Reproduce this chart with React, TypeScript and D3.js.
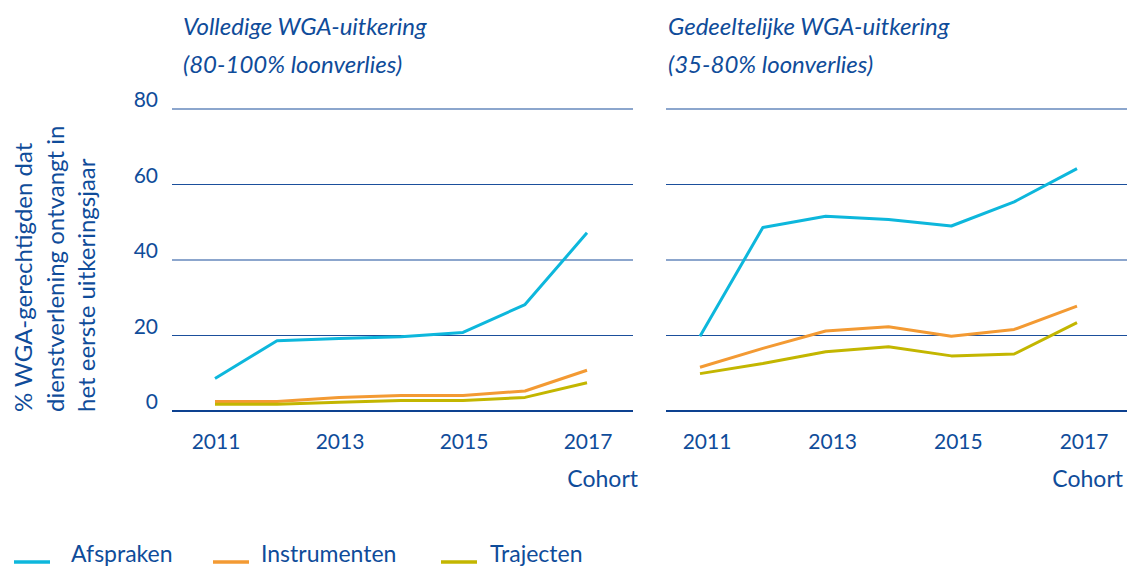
import React from "react";
import * as d3 from "d3";

const years = [2011, 2012, 2013, 2014, 2015, 2016, 2017];
const tickYears = [2011, 2013, 2015, 2017];
const yTicks = [0, 20, 40, 60, 80];

// Volledige WGA-uitkering
const fullAfspraken = [8.6, 18.6, 19.2, 19.7, 20.8, 28.2, 47.2];
const fullInstrumenten = [2.5, 2.5, 3.6, 4.1, 4.1, 5.3, 10.8];
const fullTrajecten = [1.8, 1.8, 2.3, 2.8, 2.8, 3.6, 7.5];

// Gedeeltelijke WGA-uitkering
const partAfspraken = [19.8, 48.6, 51.6, 50.7, 49.0, 55.4, 64.2];
const partInstrumenten = [11.6, 16.6, 21.2, 22.3, 19.8, 21.6, 27.8];
const partTrajecten = [9.9, 12.6, 15.7, 17.0, 14.6, 15.1, 23.4];

const seriesNames = ["Afspraken", "Instrumenten", "Trajecten"];
const seriesColors = ["#0db7dc", "#f39a33", "#c3b600"];

const panelTitles = [
  ["Volledige WGA-uitkering", "(80-100% loonverlies)"],
  ["Gedeeltelijke WGA-uitkering", "(35-80% loonverlies)"],
];
const yTitleLines = [
  "% WGA-gerechtigden dat",
  "dienstverlening ontvangt in",
  "het eerste uitkeringsjaar",
];
const xAxisTitle = "Cohort";

const TEXT = "#0f4c9a";
const GRID = "#1b4f9c";
const FONT = "Lato, 'Open Sans', sans-serif";

const panels = [
  {
    titles: panelTitles[0],
    series: [fullAfspraken, fullInstrumenten, fullTrajecten],
    gridX: [172, 633],
    dataX: [215, 587],
    labelDx: 1,
    titleX: 183,
    cohortX: 638,
  },
  {
    titles: panelTitles[1],
    series: [partAfspraken, partInstrumenten, partTrajecten],
    gridX: [666, 1127],
    dataX: [700, 1077],
    labelDx: 7,
    titleX: 668,
    cohortX: 1123,
  },
];

const legendSwatchX = [14, 213, 441];
const legendTextX = [71, 261, 490];

export default function App() {
  const W = 1130;
  const H = 568;
  const y = d3.scaleLinear().domain([0, 80]).range([411, 109]);

  return (
    <svg
      width={W}
      height={H}
      style={{ position: "absolute", left: 0, top: 0, background: "#fff" }}
      fontFamily={FONT}
    >
      {/* Y-axis title */}
      {yTitleLines.map((t, i) => (
        <text
          key={t}
          transform={`translate(${32 + i * 31.5},412) rotate(-90)`}
          fontSize={24}
          fill={TEXT}
          textAnchor="start"
        >
          {t}
        </text>
      ))}

      {/* Y tick labels */}
      {yTicks.map((v) => (
        <text
          key={v}
          x={158}
          y={y(v) - 7}
          fontSize={21}
          fill={TEXT}
          textAnchor="end"
          dominantBaseline="middle"
        >
          {v}
        </text>
      ))}

      {panels.map((p, pi) => {
        const x = d3
          .scaleLinear()
          .domain([years[0], years[years.length - 1]])
          .range(p.dataX);
        const line = d3
          .line<number>()
          .x((_, i) => x(years[i]))
          .y((d) => y(d));
        return (
          <g key={pi}>
            {p.titles.map((t, i) => (
              <text
                key={t}
                x={p.titleX}
                y={35 + i * 38}
                fontSize={24}
                fontStyle="italic"
                fill={TEXT}
              >
                {t}
              </text>
            ))}
            {yTicks.map((v) => (
              <line
                key={v}
                x1={p.gridX[0]}
                x2={p.gridX[1]}
                y1={y(v)}
                y2={y(v)}
                stroke={v === 0 ? "#0d4190" : GRID}
                strokeWidth={v === 0 ? 2.2 : 1.2}
              />
            ))}
            {p.series.map((s, si) => (
              <path
                key={si}
                d={line(s) || ""}
                fill="none"
                stroke={seriesColors[si]}
                strokeWidth={3}
                strokeLinejoin="round"
              />
            ))}
            {tickYears.map((yr) => (
              <text
                key={yr}
                x={x(yr) + p.labelDx}
                y={449}
                fontSize={21}
                fill={TEXT}
                textAnchor="middle"
              >
                {yr}
              </text>
            ))}
            <text
              x={p.cohortX}
              y={487}
              fontSize={23}
              fill={TEXT}
              textAnchor="end"
            >
              {xAxisTitle}
            </text>
          </g>
        );
      })}

      {/* Legend */}
      {seriesNames.map((n, i) => (
        <g key={n}>
          <line
            x1={legendSwatchX[i]}
            x2={legendSwatchX[i] + 36}
            y1={562}
            y2={562}
            stroke={seriesColors[i]}
            strokeWidth={3.5}
          />
          <text x={legendTextX[i]} y={562} fontSize={23} fill={TEXT}>
            {n}
          </text>
        </g>
      ))}
    </svg>
  );
}
